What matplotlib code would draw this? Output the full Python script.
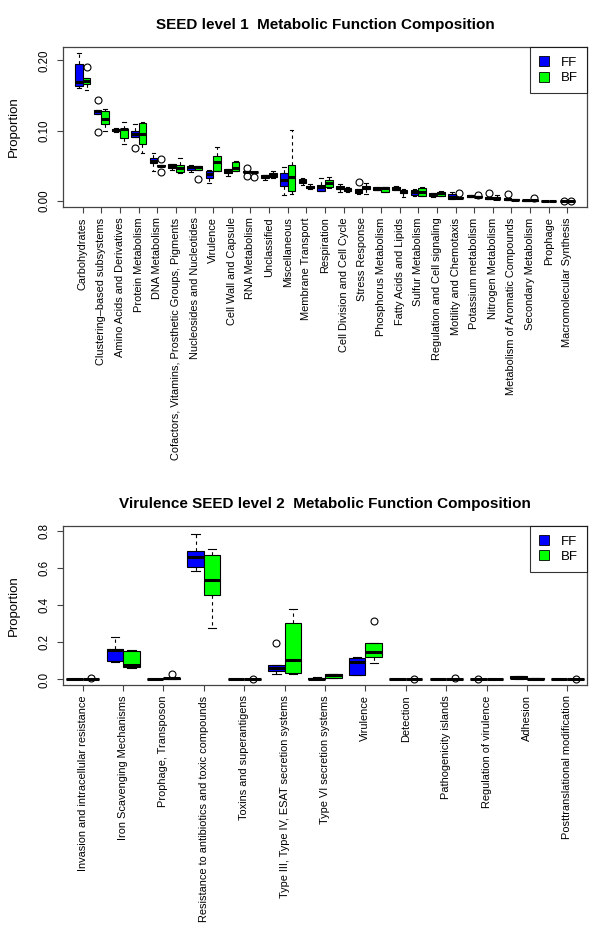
import matplotlib
matplotlib.use("Agg")
import matplotlib.pyplot as plt
import matplotlib.patches as patches

plt.rcParams['font.family'] = ['Liberation Sans', 'DejaVu Sans']

# ── SEED level 1 ─────────────────────────────────────────────
CATS_L1 = [
    "Carbohydrates", "Clustering\u2013based subsystems", "Amino Acids and Derivatives",
    "Protein Metabolism", "DNA Metabolism",
    "Cofactors, Vitamins, Prosthetic Groups, Pigments", "Nucleosides and Nucleotides",
    "Virulence", "Cell Wall and Capsule", "RNA Metabolism", "Unclassified",
    "Miscellaneous", "Membrane Transport", "Respiration", "Cell Division and Cell Cycle",
    "Stress Response", "Phosphorus Metabolism", "Fatty Acids and Lipids",
    "Sulfur Metabolism", "Regulation and Cell signaling", "Motility and Chemotaxis",
    "Potassium metabolism", "Nitrogen Metabolism", "Metabolism of Aromatic Compounds",
    "Secondary Metabolism", "Prophage", "Macromolecular Synthesis",
]

L1_FF_LO = [0.161, 0.124, 0.098, 0.0915, 0.0427, 0.0436, 0.0408, 0.0251, 0.036, 0.0408,
            0.030, 0.0085, 0.0228, 0.0142, 0.0128, 0.0100, 0.0161, 0.0152, 0.007, 0.0052,
            0.0033, 0.0062, 0.0033, 0.0014, 0.0005, 0.0, 0.0]
L1_FF_Q1 = [0.163, 0.124, 0.099, 0.0915, 0.0536, 0.047, 0.0446, 0.0327, 0.0403, 0.0408,
            0.0327, 0.0218, 0.026, 0.0142, 0.0166, 0.0119, 0.0161, 0.0152, 0.008, 0.0076,
            0.0033, 0.0062, 0.0033, 0.0014, 0.0005, 0.0, 0.0]
L1_FF_MED = [0.169, 0.1275, 0.101, 0.0953, 0.0574, 0.0498, 0.0484, 0.0384, 0.0431, 0.0417,
             0.0351, 0.0294, 0.0289, 0.020, 0.019, 0.0147, 0.0175, 0.018, 0.0123, 0.009,
             0.0062, 0.0071, 0.0043, 0.0024, 0.001, 0.0002, 0.0]
L1_FF_Q3 = [0.195, 0.1294, 0.103, 0.0996, 0.0616, 0.052, 0.0498, 0.0427, 0.0455, 0.0427,
            0.037, 0.0394, 0.0313, 0.0228, 0.0213, 0.0166, 0.0194, 0.0204, 0.0156, 0.0109,
            0.010, 0.0085, 0.0062, 0.0038, 0.0014, 0.0004, 0.0]
L1_FF_HI = [0.210, 0.1294, 0.104, 0.1095, 0.0678, 0.052, 0.0505, 0.0441, 0.0455, 0.0427,
            0.037, 0.0479, 0.033, 0.033, 0.0242, 0.0166, 0.0194, 0.0218, 0.0171, 0.0119,
            0.0133, 0.0085, 0.0062, 0.0038, 0.0014, 0.0004, 0.0]
L1_FF_OUT = [[], [0.143, 0.0977], [], [0.075], [], [], [], [], [], [0.0465, 0.036],
             [], [], [], [], [], [0.0266], [], [], [], [],
             [], [], [0.0109], [0.010], [], [], [0.0001]]

L1_BF_LO = [0.158, 0.100, 0.0806, 0.068, 0.0498, 0.0394, 0.0446, 0.0427, 0.0427, 0.0412,
            0.0327, 0.010, 0.0166, 0.0185, 0.0128, 0.010, 0.0123, 0.006, 0.0071, 0.0076,
            0.0038, 0.0052, 0.0028, 0.0009, 0.0005, 0.0, 0.0]
L1_BF_Q1 = [0.167, 0.1095, 0.089, 0.081, 0.0498, 0.0413, 0.0446, 0.0427, 0.0427, 0.0412,
            0.0346, 0.0138, 0.0190, 0.0204, 0.0142, 0.0166, 0.0133, 0.0109, 0.0071, 0.0076,
            0.0038, 0.0052, 0.0028, 0.0009, 0.0005, 0.0, 0.0]
L1_BF_MED = [0.171, 0.116, 0.102, 0.0953, 0.0498, 0.0465, 0.0488, 0.055, 0.0474, 0.0412,
             0.0375, 0.0346, 0.0204, 0.0251, 0.0161, 0.019, 0.018, 0.0133, 0.0133, 0.0109,
             0.0047, 0.0062, 0.0033, 0.0019, 0.001, 0.0001, 0.0]
L1_BF_Q3 = [0.1745, 0.1275, 0.103, 0.1114, 0.0505, 0.0512, 0.0503, 0.0645, 0.056, 0.0417,
            0.0398, 0.0512, 0.0218, 0.030, 0.018, 0.0213, 0.0204, 0.0161, 0.019, 0.0133,
            0.0062, 0.0066, 0.0062, 0.0033, 0.0014, 0.0002, 0.0]
L1_BF_HI = [0.1745, 0.131, 0.112, 0.112, 0.0505, 0.0607, 0.0503, 0.0773, 0.0574, 0.0417,
            0.0427, 0.101, 0.0237, 0.0346, 0.0204, 0.026, 0.0204, 0.0175, 0.0204, 0.0147,
            0.0062, 0.0066, 0.0081, 0.0033, 0.0014, 0.0002, 0.0]
L1_BF_OUT = [[0.190], [], [], [], [0.0597, 0.0408], [], [0.0313], [], [], [0.034],
             [], [], [], [], [], [], [], [], [], [],
             [0.0109], [0.0085], [], [], [0.0038], [], [0.0001]]

# ── Virulence SEED level 2 ───────────────────────────────────
CATS_VIR = [
    "Invasion and intracellular resistance", "Iron Scavenging Mechanisms",
    "Prophage, Transposon", "Resistance to antibiotics and toxic compounds",
    "Toxins and superantigens", "Type III, Type IV, ESAT secretion systems",
    "Type VI secretion systems", "Virulence", "Detection", "Pathogenicity islands",
    "Regulation of virulence", "Adhesion", "Posttranslational modification",
]

VIR_FF_LO = [0, 0.094, 0, 0.583, 0, 0.030, 0, 0.024, 0, 0.002, 0, 0.004, 0]
VIR_FF_Q1 = [0, 0.101, 0, 0.607, 0, 0.044, 0, 0.024, 0, 0.002, 0, 0.006, 0]
VIR_FF_MED = [0, 0.159, 0, 0.660, 0, 0.062, 0, 0.094, 0, 0.004, 0, 0.008, 0]
VIR_FF_Q3 = [0.001, 0.162, 0.001, 0.693, 0.001, 0.076, 0.008, 0.116, 0.001, 0.005, 0, 0.017, 0.001]
VIR_FF_HI = [0.001, 0.230, 0.001, 0.782, 0.001, 0.076, 0.012, 0.123, 0.001, 0.005, 0, 0.017, 0.001]
VIR_FF_OUT = [[], [], [], [], [], [0.198], [], [], [], [], [0.001], [], []]

VIR_BF_LO = [0, 0.060, 0.003, 0.277, 0, 0.030, 0.008, 0.089, 0, 0.003, 0, 0.002, 0]
VIR_BF_Q1 = [0, 0.069, 0.004, 0.452, 0, 0.033, 0.008, 0.119, 0, 0.003, 0, 0.003, 0]
VIR_BF_MED = [0, 0.078, 0.006, 0.535, 0, 0.105, 0.026, 0.150, 0, 0.004, 0, 0.004, 0]
VIR_BF_Q3 = [0.001, 0.153, 0.009, 0.669, 0.001, 0.302, 0.030, 0.194, 0.001, 0.005, 0.001, 0.006, 0.001]
VIR_BF_HI = [0.001, 0.159, 0.009, 0.700, 0.001, 0.377, 0.030, 0.194, 0.001, 0.005, 0.001, 0.006, 0.001]
VIR_BF_OUT = [[0.006], [], [0.030], [], [0.002], [], [], [0.316], [0.002], [0.008], [], [], [0.002]]

FF_COLOR = "#0000FF"
BF_COLOR = "#00FF00"
FRAME = "#444444"
BOX_W = 0.41


def make_stats(lo, q1, med, q3, hi, out):
    return [dict(whislo=a, q1=b, med=c, q3=d, whishi=e, fliers=f)
            for a, b, c, d, e, f in zip(lo, q1, med, q3, hi, out)]


def draw_group(ax, stats, positions, color):
    ax.bxp(stats, positions=positions, widths=BOX_W, capwidths=BOX_W / 2,
           patch_artist=True, manage_ticks=False,
           boxprops=dict(facecolor=color, edgecolor="black", linewidth=0.8),
           medianprops=dict(color="black", linewidth=2.2, solid_capstyle="butt"),
           whiskerprops=dict(color="black", linewidth=0.8, linestyle=(0, (3, 3))),
           capprops=dict(color="black", linewidth=0.8),
           flierprops=dict(marker="o", markerfacecolor="none", markeredgecolor="black",
                           markersize=5, markeredgewidth=0.8))


def panel(ax, cats, ff_stats, bf_stats, title, yticks, ylabels, ylim, xmargin):
    n = len(cats)
    idx = list(range(n))
    draw_group(ax, ff_stats, [i - BOX_W / 2 for i in idx], FF_COLOR)
    draw_group(ax, bf_stats, [i + BOX_W / 2 for i in idx], BF_COLOR)
    ax.set_xlim(-xmargin, n - 1 + xmargin)
    ax.set_ylim(*ylim)
    ax.set_xticks(idx)
    ax.set_xticklabels(cats, rotation=90, fontsize=7.9, va="top", ha="center")
    ax.set_yticks(yticks)
    ax.set_yticklabels(ylabels, rotation=90, va="center", fontsize=8.3)
    ax.tick_params(axis="both", direction="out", length=4.5, width=0.8, color=FRAME, pad=3)
    ax.tick_params(axis="y", pad=5)
    for s in ax.spines.values():
        s.set_color(FRAME)
        s.set_linewidth(0.9)
    ax.set_ylabel("Proportion", fontsize=9.5, labelpad=13)
    ax.set_title(title, fontsize=11, fontweight="bold", pad=13)
    handles = [patches.Patch(facecolor=FF_COLOR, edgecolor="black", linewidth=0.6, label="FF"),
               patches.Patch(facecolor=BF_COLOR, edgecolor="black", linewidth=0.6, label="BF")]
    leg = ax.legend(handles=handles, loc="upper right", borderaxespad=0, fancybox=False,
                    frameon=True, edgecolor="black", fontsize=9.5, handlelength=0.75,
                    handleheight=0.8, handletextpad=0.9, borderpad=0.7, labelspacing=0.2)
    leg.get_frame().set_linewidth(0.8)


fig = plt.figure(figsize=(6.0, 9.31), dpi=100)
ax1 = fig.add_axes([0.1055, 0.7777, 0.8725, 0.1718])
ax2 = fig.add_axes([0.1055, 0.2642, 0.8725, 0.1711])

panel(ax1, CATS_L1,
      make_stats(L1_FF_LO, L1_FF_Q1, L1_FF_MED, L1_FF_Q3, L1_FF_HI, L1_FF_OUT),
      make_stats(L1_BF_LO, L1_BF_Q1, L1_BF_MED, L1_BF_Q3, L1_BF_HI, L1_BF_OUT),
      "SEED level 1  Metabolic Function Composition",
      [0.0, 0.1, 0.2], ["0.00", "0.10", "0.20"], (-0.0085, 0.219), 1.04)

panel(ax2, CATS_VIR,
      make_stats(VIR_FF_LO, VIR_FF_Q1, VIR_FF_MED, VIR_FF_Q3, VIR_FF_HI, VIR_FF_OUT),
      make_stats(VIR_BF_LO, VIR_BF_Q1, VIR_BF_MED, VIR_BF_Q3, VIR_BF_HI, VIR_BF_OUT),
      "Virulence SEED level 2  Metabolic Function Composition",
      [0.0, 0.2, 0.4, 0.6, 0.8], ["0.0", "0.2", "0.4", "0.6", "0.8"], (-0.030, 0.827), 0.48)

fig.savefig("out.png", dpi=100, facecolor="white")
